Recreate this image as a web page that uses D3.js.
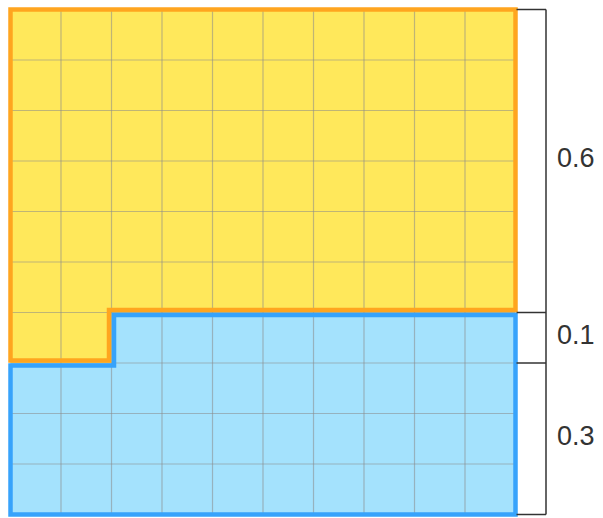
<!DOCTYPE html>
<meta charset="utf-8">
<style>
    body { margin: 0; background: #fff; }
    .grid line { stroke: #8a8a8a; stroke-opacity: 0.55; stroke-width: 1.2px; }
    .bracket { fill: none; stroke: #333; stroke-width: 1.5px; }
    .label { font: 27px "Liberation Sans", Arial, sans-serif; fill: #333; }
</style>
<svg width="603" height="518"></svg>
<script src="https://cdn.jsdelivr.net/npm/d3@7"></script>
<script>

    // 10 x 10 grid, 62 cells yellow (filled row by row from the top), the rest blue
    var cols = 10,
        rows = 10,
        yellowCells = 62;

    var segments = [0.6, 0.1, 0.3],
        segmentLabels = ["0.6", "0.1", "0.3"];

    var svg = d3.select("svg"),
        margin = {top: 9.5, left: 10.5},
        size = 505;

    var x = d3.scaleLinear().domain([0, cols]).range([margin.left, margin.left + size]),
        y = d3.scaleLinear().domain([0, rows]).range([margin.top, margin.top + size]);

    var fullRows = Math.floor(yellowCells / cols),
        extra = yellowCells % cols,
        inset = 2.5;

    // fills
    svg.append("rect")
        .attr("x", x(0)).attr("y", y(0))
        .attr("width", x(cols) - x(0)).attr("height", y(rows) - y(0))
        .attr("fill", "#a4e2fd");

    var yellowFill = [
        [x(0), y(0)], [x(cols), y(0)], [x(cols), y(fullRows)],
        [x(extra), y(fullRows)], [x(extra), y(fullRows + 1)], [x(0), y(fullRows + 1)]
    ];
    svg.append("path")
        .attr("d", d3.line()(yellowFill) + "Z")
        .attr("fill", "#ffe85b");

    // grid lines
    var grid = svg.append("g").attr("class", "grid");
    grid.selectAll(".v").data(d3.range(1, cols)).enter().append("line")
        .attr("x1", function(d) { return x(d); }).attr("x2", function(d) { return x(d); })
        .attr("y1", y(0)).attr("y2", y(rows));
    grid.selectAll(".h").data(d3.range(1, rows)).enter().append("line")
        .attr("y1", function(d) { return y(d); }).attr("y2", function(d) { return y(d); })
        .attr("x1", x(0)).attr("x2", x(cols));

    // outlines, pulled apart along the shared edge
    var yellowLine = [
        [x(0), y(0)], [x(cols), y(0)], [x(cols), y(fullRows) - inset],
        [x(extra) - inset, y(fullRows) - inset], [x(extra) - inset, y(fullRows + 1) - inset],
        [x(0), y(fullRows + 1) - inset]
    ];
    var blueLine = [
        [x(0), y(fullRows + 1) + inset], [x(extra) + inset, y(fullRows + 1) + inset],
        [x(extra) + inset, y(fullRows) + inset], [x(cols), y(fullRows) + inset],
        [x(cols), y(rows)], [x(0), y(rows)]
    ];
    svg.append("path")
        .attr("d", d3.line()(yellowLine) + "Z")
        .attr("fill", "none").attr("stroke", "#ffa51f").attr("stroke-width", 4.5)
        .attr("stroke-linejoin", "miter");
    svg.append("path")
        .attr("d", d3.line()(blueLine) + "Z")
        .attr("fill", "none").attr("stroke", "#37a3fb").attr("stroke-width", 4.5)
        .attr("stroke-linejoin", "miter");

    // bracket on the right
    var b = d3.scaleLinear().domain([0, 1]).range([y(0), y(rows)]);
    var cum = [0];
    segments.forEach(function(s, i) { cum.push(cum[i] + s); });
    var bx0 = x(cols) + 1, bx1 = 546;

    var br = svg.append("g");
    br.append("line").attr("class", "bracket")
        .attr("x1", bx1).attr("x2", bx1).attr("y1", b(0)).attr("y2", b(1));
    br.selectAll(".tick").data(cum).enter().append("line")
        .attr("class", "bracket")
        .attr("x1", bx0).attr("x2", bx1)
        .attr("y1", function(d) { return b(d); }).attr("y2", function(d) { return b(d); });

    br.selectAll(".label").data(segments).enter().append("text")
        .attr("class", "label")
        .attr("x", 557)
        .attr("y", function(d, i) { return b(cum[i] + d / 2); })
        .attr("dy", "6px")
        .text(function(d, i) { return segmentLabels[i]; });

</script>
